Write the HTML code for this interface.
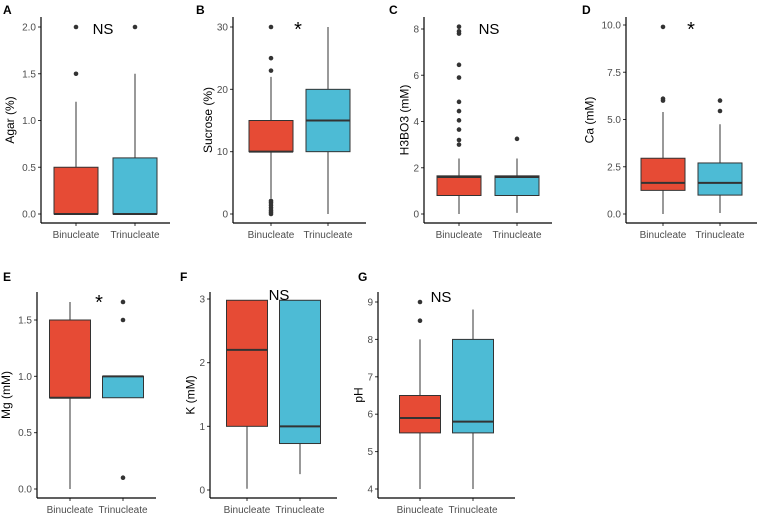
<!DOCTYPE html>
<html><head><meta charset="utf-8">
<style>
body{margin:0;background:#fff;}
svg{display:block;font-family:"Liberation Sans",Arial,sans-serif;}
</style></head>
<body>
<svg id="chart" width="758" height="515" viewBox="0 0 758 515" xmlns="http://www.w3.org/2000/svg"></svg>
<script>
// Data: [lowerWhisker, q1, median, q3, upperWhisker]
const categories = ["Binucleate", "Trinucleate"];
const agarStats = [[0,0,0,0.5,1.2],[0,0,0,0.6,1.5]];
const agarOut = [[1.5,2.0],[2.0]];
const sucroseStats = [[2.5,10,10,15,22],[0,10,15,20,30]];
const sucroseOut = [[0,0.3,0.6,1,1.4,1.8,2.1,23,25,30],[]];
const boronStats = [[0,0.8,1.6,1.65,2.4],[0.05,0.8,1.6,1.65,2.4]];
const boronOut = [[3.0,3.2,3.65,4.05,4.45,4.85,5.9,6.45,7.8,7.9,8.1],[3.25]];
const caStats = [[0,1.25,1.65,2.95,5.4],[0.05,1.0,1.65,2.7,4.75]];
const caOut = [[6.0,6.1,9.9],[5.45,6.0]];
const mgStats = [[0,0.81,0.81,1.5,1.66],[0.81,0.81,1.0,1.0,0.81]];
const mgOut = [[],[0.1,1.5,1.66]];
const kStats = [[0.02,1.0,2.2,2.98,2.98],[0.25,0.73,1.0,2.98,2.98]];
const kOut = [[],[]];
const phStats = [[4,5.5,5.9,6.5,8],[4,5.5,5.8,8,8.8]];
const phOut = [[8.5,9.0],[]];
const agarTicks = ["0.0","0.5","1.0","1.5","2.0"];
const sucroseTicks = ["0","10","20","30"];
const boronTicks = ["0","2","4","6","8"];
const caTicks = ["0.0","2.5","5.0","7.5","10.0"];
const mgTicks = ["0.0","0.5","1.0","1.5"];
const kTicks = ["0","1","2","3"];
const phTicks = ["4","5","6","7","8","9"];

const NS="http://www.w3.org/2000/svg";
const svg=document.getElementById('chart');
function mk(tag,attrs,parent){const e=document.createElementNS(NS,tag);for(const k in attrs)e.setAttribute(k,attrs[k]);(parent||svg).appendChild(e);return e;}
const colors=["#E64B35","#4DBBD5"];

// layout: axisX, top, bottom(x-axis y), v0,y0px, v1,y1px, centers, letter, title, ann, annX, annY
const panels=[
 {id:"a",letter:"A",lx:3,ly:14,ax:41,top:17,bot:223,v0:0,p0:214,v1:2,p1:27,c:[76,135],w:44,ticks:agarTicks,stats:agarStats,out:agarOut,title:"Agar (%)",ann:"NS",annX:103,annY:34,annSize:15},
 {id:"b",letter:"B",lx:196,ly:14,ax:233,top:17,bot:223,v0:0,p0:214,v1:30,p1:27,c:[271,328],w:44,ticks:sucroseTicks,stats:sucroseStats,out:sucroseOut,title:"Sucrose (%)",ann:"*",annX:298,annY:36,annSize:20},
 {id:"c",letter:"C",lx:389,ly:14,ax:424,top:17,bot:223,v0:0,p0:214,v1:8,p1:29,c:[459,517],w:44,ticks:boronTicks,stats:boronStats,out:boronOut,title:"H3BO3 (mM)",ann:"NS",annX:489,annY:34,annSize:15},
 {id:"d",letter:"D",lx:582,ly:14,ax:626,top:17,bot:223,v0:0,p0:214,v1:10,p1:25,c:[663,720],w:44,ticks:caTicks,stats:caStats,out:caOut,title:"Ca (mM)",ann:"*",annX:691,annY:36,annSize:20},
 {id:"e",letter:"E",lx:3,ly:281,ax:37,top:292,bot:498,v0:0,p0:489,v1:1.5,p1:320,c:[70,123],w:41,ticks:mgTicks,stats:mgStats,out:mgOut,title:"Mg (mM)",ann:"*",annX:99,annY:309,annSize:20},
 {id:"f",letter:"F",lx:180,ly:281,ax:210,top:292,bot:498,v0:0,p0:490,v1:3,p1:299,c:[247,300],w:41,ticks:kTicks,stats:kStats,out:kOut,title:"K (mM)",ann:"NS",annX:279,annY:300,annSize:15},
 {id:"g",letter:"G",lx:358,ly:281,ax:378,top:292,bot:498,v0:4,p0:489,v1:9,p1:302,c:[420,473],w:41,ticks:phTicks,stats:phStats,out:phOut,title:"pH",ann:"NS",annX:441,annY:302,annSize:15}
];

panels.forEach(p=>{
  const g=mk('g',{});
  
  
  const y=v=>p.p0+(v-p.v0)*(p.p1-p.p0)/(p.v1-p.v0);
  const right=p.c[1]+(p.c[0]-p.ax);
  const L=mk('text',{x:p.lx,y:p.ly,'font-size':12,'font-weight':'bold',fill:'#000'},g);L.textContent=p.letter;
  
  
  // y ticks
  p.ticks.forEach(t=>{
    const v=parseFloat(t),yy=y(v);
    mk('line',{x1:p.ax-3,x2:p.ax,y1:yy,y2:yy,stroke:'#333','stroke-width':1},g);
    const tx=mk('text',{x:p.ax-5,y:yy+3.5,'font-size':10,fill:'#4d4d4d','text-anchor':'end'},g);tx.textContent=t;
    
    
  });
  // boxes
  p.stats.forEach((s,i)=>{
    const cx=p.c[i],hw=p.w/2;
    const bg=mk('g',{},g);
    
    
    mk('line',{x1:cx,x2:cx,y1:y(s[0]),y2:y(s[1]),stroke:'#333','stroke-width':1},bg);
    mk('line',{x1:cx,x2:cx,y1:y(s[3]),y2:y(s[4]),stroke:'#333','stroke-width':1},bg);
    const yt=y(s[3]),yb=y(s[1]);
    mk('rect',{x:cx-hw,y:yt,width:p.w,height:Math.max(yb-yt,0.5),fill:colors[i],stroke:'#333','stroke-width':1},bg);
    mk('line',{x1:cx-hw,x2:cx+hw,y1:y(s[2]),y2:y(s[2]),stroke:'#333','stroke-width':2},bg);
    p.out[i].forEach(o=>{
      const c=mk('circle',{cx:cx,cy:y(o),r:2.3,fill:'#333'},bg);
      
      
    });
    mk('line',{x1:cx,x2:cx,y1:p.bot,y2:p.bot+3,stroke:'#333','stroke-width':1},g);
    const xl=mk('text',{x:cx,y:p.bot+15,'font-size':10,fill:'#4d4d4d','text-anchor':'middle'},g);xl.textContent=categories[i];
    
    
  });
  // axes
  mk('line',{x1:p.ax,x2:p.ax,y1:p.top,y2:p.bot,stroke:'#000','stroke-width':1.2},g);
  mk('line',{x1:p.ax,x2:right,y1:p.bot,y2:p.bot,stroke:'#000','stroke-width':1.2},g);
  const mid=(p.top+p.bot)/2;
  const tw=p.ticks.reduce((m,t)=>Math.max(m,t.length),0)*5.6;
  const tt=mk('text',{x:0,y:0,'font-size':12,fill:'#000','text-anchor':'middle',transform:`translate(${p.ax-tw-10},${mid}) rotate(-90)`},g);tt.textContent=p.title;
  
  
  const an=mk('text',{x:p.annX,y:p.annY,'font-size':p.annSize,fill:'#000','text-anchor':'middle'},g);an.textContent=p.ann;
  
  
});
</script>
</body></html>
